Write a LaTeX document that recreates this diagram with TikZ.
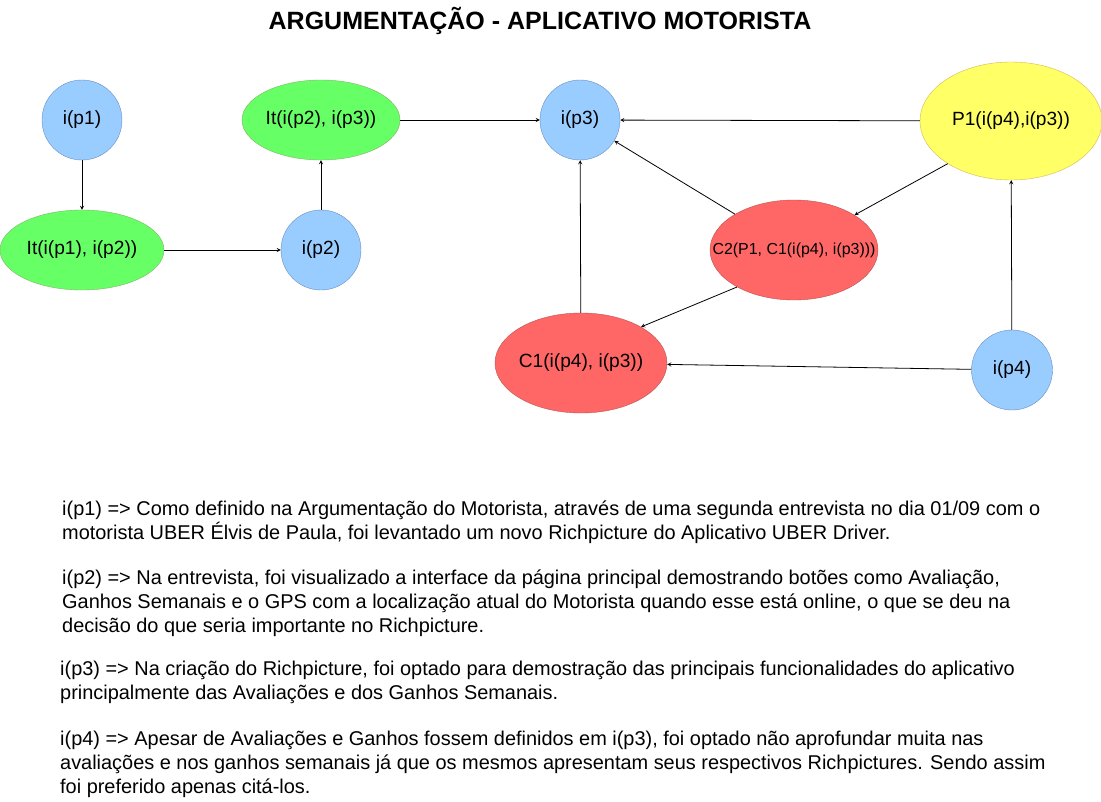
\documentclass[tikz,border=0pt]{standalone}
\usepackage{fontspec}
\setmainfont{Liberation Sans}
\usetikzlibrary{shapes.geometric}
\definecolor{bleu}{HTML}{99CCFF}
\definecolor{bleutrait}{HTML}{6C8EBF}
\definecolor{vert}{HTML}{66FF66}
\definecolor{verttrait}{HTML}{82B366}
\definecolor{rouge}{HTML}{FF6666}
\definecolor{rougetrait}{HTML}{B85450}
\definecolor{jaune}{HTML}{FFFF66}
\definecolor{jaunetrait}{HTML}{D6B656}

\begin{document}
\begin{tikzpicture}[x=1bp,y=-1bp]
\useasboundingbox (0,0) rectangle (1101,802);
\tikzstyle{lien}=[->,>=stealth,line width=0.8bp]
\tikzset{individu/.style={ellipse,draw=#1trait,fill=#1,inner sep=0pt,font=\fontsize{19.2}{23}\selectfont},
individu/.default={bleu},
texte/.style={anchor=north west,align=left,inner sep=0pt,font=\fontsize{20}{24}\selectfont}}

\node[font=\bfseries\fontsize{25.1}{30}\selectfont] (titre) at (540,21){ARGUMENTAÇÃO - APLICATIVO MOTORISTA};

\node[individu,minimum width=80bp,minimum height=80bp] (I1) at (82,120){i(p1)};
\node[individu=vert,minimum width=164bp,minimum height=80bp] (It1) at (82,250){\makebox[0pt]{It(i(p1), i(p2))}};
\node[individu,minimum width=80bp,minimum height=80bp] (I2) at (321,250){i(p2)};
\node[individu=vert,minimum width=158bp,minimum height=80bp] (It2) at (321,120){\makebox[0pt]{It(i(p2), i(p3))}};
\node[individu,minimum width=80bp,minimum height=80bp] (I3) at (580,120){i(p3)};
\node[individu=jaune,minimum width=182bp,minimum height=118bp] (P1) at (1011,121){P1(i(p4),i(p3))};
\node[individu=rouge,minimum width=168bp,minimum height=100bp,font=\fontsize{16}{19}\selectfont] (C2) at (794,250){\makebox[0pt]{C2(P1, C1(i(p4), i(p3)))}};
\node[individu=rouge,minimum width=172bp,minimum height=100bp] (C1) at (581,363){\makebox[0pt]{C1(i(p4), i(p3))}};
\node[individu,minimum width=81bp,minimum height=80bp] (I4) at (1012,370){i(p4)};

\draw[lien] (I1) -- (It1);
\draw[lien] (It1) -- (I2);
\draw[lien] (I2) -- (It2);
\draw[lien] (It2) -- (I3);
\draw[lien] (P1) -- (I3);
\draw[lien] (C2) -- (I3);
\draw[lien] (P1.214) -- (C2.30);
\draw[lien] (C1) -- (I3);
\draw[lien] (C2.213) -- (C1.31);
\draw[lien] (I4) -- (C1);
\draw[lien] (I4) -- (P1);

\node[texte] (T1) at (62,501){i(p1) => Como definido na Argumentação do Motorista, através de uma segunda entrevista no dia 01/09 com o\\motorista UBER Élvis de Paula, foi levantado um novo Richpicture do Aplicativo UBER Driver.};
\node[texte] (T2) at (62,570){i(p2) => Na entrevista, foi visualizado a interface da página principal demostrando botões como Avaliação,\\Ganhos Semanais e o GPS com a localização atual do Motorista quando esse está online, o que se deu na\\decisão do que seria importante no Richpicture.};
\node[texte] (T3) at (60,661){i(p3) => Na criação do Richpicture, foi optado para demostração das principais funcionalidades do aplicativo\\principalmente das Avaliações e dos Ganhos Semanais.};
\node[texte] (T4) at (60,731){i(p4) => Apesar de Avaliações e Ganhos fossem definidos em i(p3), foi optado não aprofundar muita nas\\avaliações e nos ganhos semanais já que os mesmos apresentam seus respectivos Richpictures. Sendo assim\\foi preferido apenas citá-los.};
\end{tikzpicture}
\end{document}
